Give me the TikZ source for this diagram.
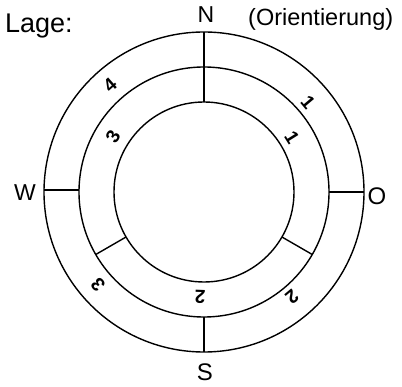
\documentclass[tikz,border=0pt]{standalone}
\usepackage{fontspec}
\setmainfont{Liberation Sans}
\usetikzlibrary{calc}
\begin{document}
\begin{tikzpicture}[x=1pt,y=-1pt,
  ring/.style={line width=1.4pt},
  bigtxt/.style={inner sep=0pt,font=\fontsize{24}{24}\selectfont},
  digit/.style={inner sep=0pt,font=\bfseries\fontsize{19}{19}\selectfont}]
\useasboundingbox (0,0) rectangle (402,387);
\coordinate (C) at (204,192);
% rings
\draw[ring] (C) circle[radius=160];
\draw[ring] (C) circle[radius=125];
\draw[ring] (C) circle[radius=90];
% radial dividers
\draw[ring] ($(C)+(0,-160)$) -- ($(C)+(0,-90)$);
\draw[ring] ($(C)+(0,125)$) -- ($(C)+(0,160)$);
\draw[ring] ($(C)+(-160,-2)$) -- ($(C)+(-125,-2)$);
\draw[ring] ($(C)+(125,0)$) -- ($(C)+(160,0)$);
\draw[ring] ($(C)+(-210:90)$) -- ($(C)+(-210:125)$);
\draw[ring] ($(C)+(30:90)$) -- ($(C)+(30:125)$);
% texts
\node[bigtxt,anchor=base west,font=\fontsize{27}{27}\selectfont] (lage) at (5,33) {Lage:};
\node[bigtxt,anchor=base,font=\fontsize{23}{23}\selectfont] (n) at (206,23) {N};
\node[bigtxt,anchor=base west,font=\fontsize{23.5}{23.5}\selectfont] (orient) at (248,26) {(Orientierung)};
\node[bigtxt,font=\fontsize{23}{23}\selectfont] (w) at (25,192.5) {W};
\node[bigtxt] (o) at (377,196) {O};
\node[bigtxt] (s) at (205,372.5) {S};
% digits
\node[digit,rotate=41.5] (d4) at (110,85) {4};
\node[digit,rotate=-50] (d1a) at (308,102) {1};
\node[digit,rotate=59] (d3a) at (113,137) {3};
\node[digit,rotate=-58] (d1b) at (292,138) {1};
\node[digit,rotate=131] (d3b) at (98,285) {3};
\node[digit,rotate=178] (d2a) at (200,297) {2};
\node[digit,rotate=-140] (d2b) at (292,297) {2};
\end{tikzpicture}
\end{document}
